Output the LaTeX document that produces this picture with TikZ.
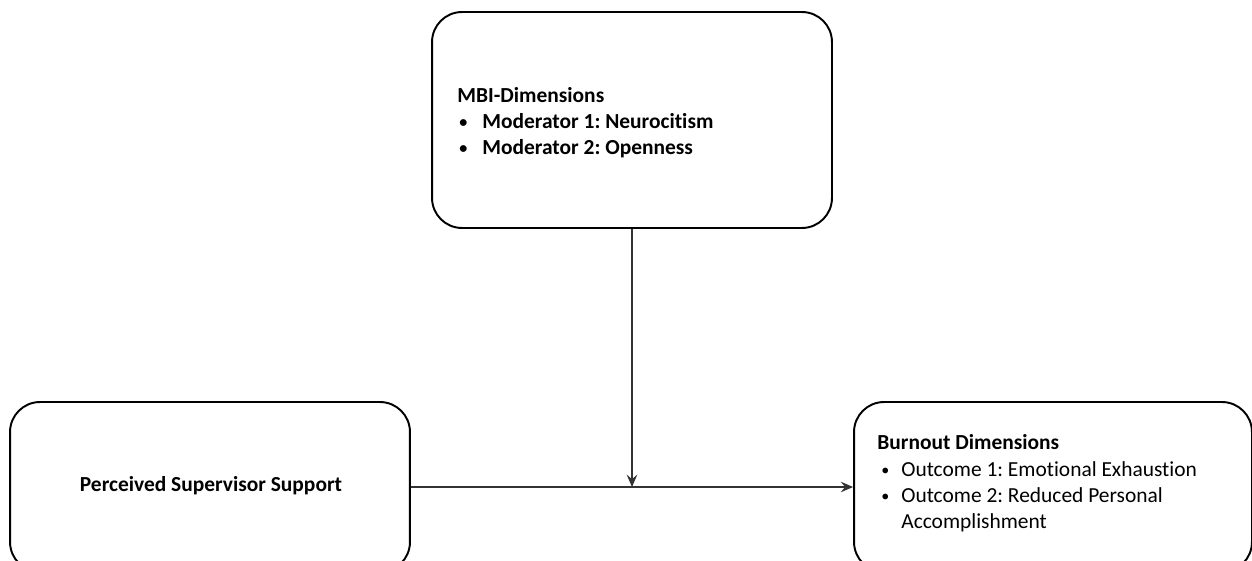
\documentclass[tikz,border=0pt]{standalone}
\usepackage{fontspec}
\setmainfont{Carlito}[Ligatures=NoCommon]
\usetikzlibrary{arrows.meta}
\frenchspacing
\newcommand{\smallbullet}{\raisebox{0.1ex}{\scalebox{0.75}{\textbullet}}}

\begin{document}
\begin{tikzpicture}[x=0.02cm, y=-0.02cm,
    box/.style={draw, line width=1.1pt, rounded corners=0.6cm, minimum width=8cm, inner sep=0pt},
    link/.style={draw=black!80, line width=0.6pt, -{Stealth[length=7pt,width=6pt,inset=2.5pt]}},
    txt/.style={inner sep=0pt, anchor=west, font=\fontsize{12.2pt}{14.9pt}\selectfont}]
\useasboundingbox (0,0) rectangle (1252,561);
\node[box, minimum height=4.32cm] (mbi) at (632,120) {};
\node[box, minimum height=3.4cm] (pss) at (210,487) {};
\node[box, minimum height=3.4cm, minimum width=7.96cm] (bod) at (1053,487) {};
\coordinate (join) at (632,487);
% box texts
\node[txt] (mbitext) at (457,123) {\bfseries
  \begin{tabular}{@{}l@{}l@{}}
  \multicolumn{2}{@{}l@{}}{MBI-Dimensions}\\
  \makebox[0.5cm][l]{\hspace{0.04cm}\smallbullet} & Moderator 1: Neurocitism\\
  \makebox[0.5cm][l]{\hspace{0.04cm}\smallbullet} & Moderator 2: Openness
  \end{tabular}};
\node[txt, anchor=center] (psstext) at (211,486) {\bfseries Perceived Supervisor Support};
\node[txt] (bodtext) at (877,484) {%
  \begin{tabular}{@{}l@{}l@{}}
  \multicolumn{2}{@{}l@{}}{\bfseries Burnout Dimensions}\\
  \makebox[0.48cm][l]{\hspace{0.08cm}\smallbullet} & Outcome 1: Emotional Exhaustion\\
  \makebox[0.48cm][l]{\hspace{0.08cm}\smallbullet} & Outcome 2: Reduced Personal\\
   & Accomplishment
  \end{tabular}};
% connectors
\draw[link] (pss.east) -- (bod.west);
\draw[link] (mbi.south) -- (join);
\end{tikzpicture}
\end{document}
